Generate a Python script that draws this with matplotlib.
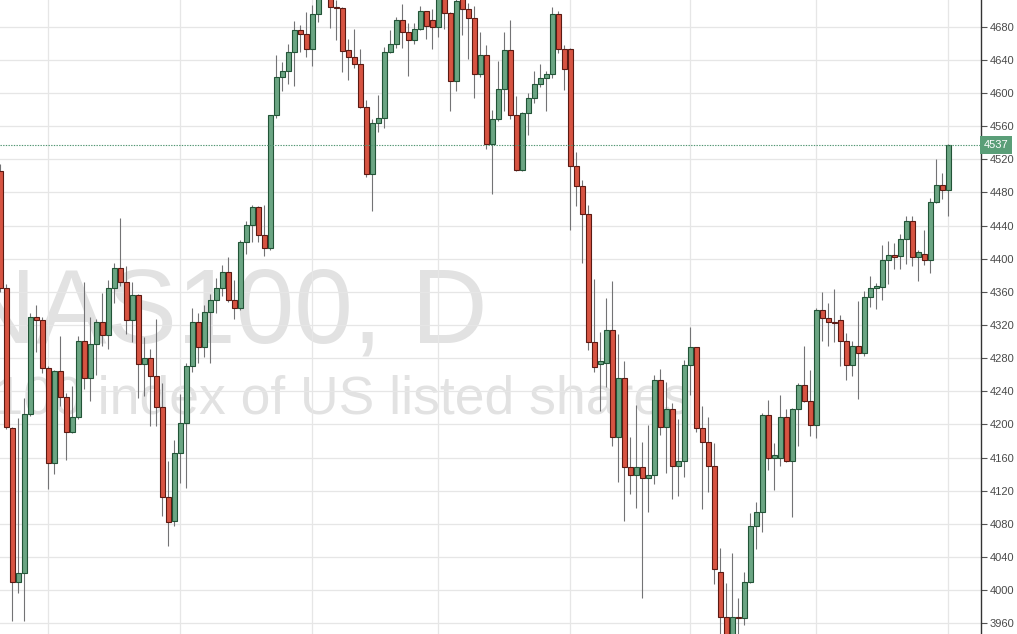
import matplotlib
matplotlib.use("Agg")
import matplotlib.pyplot as plt
import numpy as np

plt.rcParams['font.family'] = ['Liberation Sans', 'DejaVu Sans']

# ---- data (daily NAS100 candles) ----
opens = [4506, 4364, 4196, 4010, 4021, 4213, 4329, 4326, 4268, 4153,
         4264, 4233, 4191, 4209, 4301, 4256, 4297, 4324, 4308, 4364,
         4389, 4372, 4326, 4356, 4273, 4280, 4258, 4221, 4112, 4083,
         4165, 4202, 4271, 4323, 4293, 4336, 4350, 4364, 4384, 4350,
         4341, 4420, 4441, 4462, 4428, 4413, 4573, 4619, 4626, 4649,
         4676, 4671, 4653, 4695, 4717, 4718, 4704, 4702, 4652, 4644,
         4635, 4583, 4502, 4564, 4570, 4650, 4659, 4688, 4674, 4664,
         4677, 4699, 4688, 4680, 4718, 4697, 4615, 4716, 4701, 4691,
         4623, 4646, 4538, 4568, 4605, 4652, 4573, 4507, 4576, 4594,
         4611, 4618, 4623, 4695, 4653, 4653, 4512, 4488, 4454, 4299,
         4273, 4274, 4314, 4185, 4256, 4148, 4139, 4148, 4135, 4139,
         4254, 4197, 4218, 4150, 4156, 4272, 4293, 4196, 4179, 4150,
         4022, 3967, 3942, 3967, 3966, 4010, 4077, 4094, 4211, 4159,
         4159, 4209, 4156, 4218, 4247, 4228, 4199, 4338, 4328, 4323,
         4326, 4301, 4272, 4294, 4286, 4354, 4364, 4366, 4398, 4405,
         4403, 4424, 4445, 4402, 4406, 4398, 4469, 4489, 4483]
highs = [4514, 4369, 4197, 4208, 4232, 4335, 4344, 4330, 4270, 4266,
         4307, 4238, 4246, 4307, 4372, 4329, 4327, 4358, 4374, 4395,
         4449, 4391, 4372, 4357, 4305, 4291, 4327, 4250, 4156, 4181,
         4237, 4274, 4340, 4334, 4344, 4357, 4377, 4392, 4402, 4374,
         4422, 4445, 4465, 4463, 4465, 4573, 4646, 4637, 4659, 4687,
         4682, 4698, 4706, 4722, 4745, 4722, 4712, 4704, 4665, 4677,
         4653, 4592, 4568, 4598, 4656, 4676, 4692, 4707, 4684, 4685,
         4705, 4699, 4701, 4718, 4722, 4698, 4714, 4722, 4708, 4705,
         4674, 4658, 4579, 4639, 4673, 4688, 4596, 4577, 4600, 4627,
         4635, 4626, 4704, 4699, 4658, 4654, 4529, 4495, 4465, 4376,
         4311, 4352, 4373, 4309, 4276, 4185, 4223, 4179, 4199, 4260,
         4267, 4251, 4226, 4206, 4278, 4317, 4293, 4222, 4209, 4178,
         4051, 4008, 4045, 3990, 4022, 4093, 4106, 4214, 4229, 4177,
         4235, 4218, 4220, 4250, 4294, 4266, 4340, 4360, 4346, 4363,
         4332, 4310, 4301, 4349, 4361, 4379, 4371, 4417, 4421, 4419,
         4430, 4451, 4451, 4410, 4435, 4473, 4520, 4504, 4538]
lows = [4360, 4195, 3963, 3997, 3963, 4210, 4287, 4262, 4122, 4140,
        4222, 4157, 4190, 4207, 4243, 4228, 4260, 4294, 4291, 4347,
        4367, 4309, 4299, 4232, 4234, 4198, 4198, 4090, 4053, 4077,
        4129, 4123, 4263, 4274, 4281, 4274, 4334, 4355, 4348, 4327,
        4338, 4406, 4420, 4420, 4403, 4410, 4570, 4602, 4611, 4609,
        4650, 4644, 4633, 4686, 4714, 4678, 4664, 4625, 4616, 4630,
        4582, 4498, 4457, 4553, 4558, 4648, 4654, 4654, 4620, 4659,
        4676, 4665, 4653, 4668, 4677, 4578, 4602, 4670, 4641, 4594,
        4619, 4532, 4478, 4566, 4578, 4568, 4506, 4506, 4549, 4588,
        4607, 4578, 4618, 4648, 4604, 4435, 4464, 4395, 4290, 4263,
        4216, 4245, 4174, 4131, 4083, 4116, 4099, 3990, 4094, 4128,
        4187, 4141, 4110, 4114, 4136, 4236, 4191, 4098, 4118, 4007,
        3935, 3930, 3932, 3935, 3958, 4008, 4049, 4070, 4145, 4121,
        4150, 4154, 4088, 4174, 4227, 4186, 4183, 4301, 4295, 4299,
        4270, 4253, 4258, 4231, 4283, 4342, 4339, 4350, 4369, 4387,
        4387, 4393, 4391, 4373, 4392, 4383, 4467, 4472, 4451]
closes = [4364, 4197, 4010, 4021, 4213, 4329, 4326, 4268, 4153, 4264,
          4233, 4191, 4209, 4301, 4256, 4297, 4324, 4308, 4364, 4389,
          4372, 4326, 4356, 4273, 4280, 4258, 4221, 4112, 4082, 4165,
          4202, 4271, 4323, 4293, 4336, 4350, 4364, 4384, 4350, 4341,
          4420, 4441, 4462, 4428, 4413, 4573, 4619, 4626, 4649, 4676,
          4671, 4653, 4695, 4716, 4725, 4704, 4702, 4651, 4644, 4635,
          4583, 4502, 4564, 4570, 4650, 4659, 4688, 4674, 4664, 4677,
          4699, 4681, 4680, 4716, 4697, 4615, 4711, 4701, 4691, 4623,
          4646, 4538, 4568, 4605, 4652, 4573, 4507, 4576, 4594, 4611,
          4618, 4623, 4695, 4653, 4629, 4512, 4488, 4454, 4299, 4269,
          4276, 4314, 4185, 4256, 4148, 4139, 4148, 4135, 4139, 4254,
          4197, 4218, 4150, 4156, 4272, 4293, 4196, 4179, 4150, 4026,
          3967, 3940, 3967, 3966, 4010, 4077, 4094, 4211, 4159, 4163,
          4209, 4156, 4218, 4247, 4228, 4199, 4338, 4328, 4323, 4322,
          4301, 4272, 4294, 4286, 4354, 4364, 4367, 4398, 4405, 4402,
          4424, 4445, 4402, 4408, 4398, 4469, 4489, 4483, 4537]

price_ticks = list(range(3960, 4681, 40))
month_starts = [8, 30, 52, 73, 95, 115, 136, 158]
last_price = 4537
title_text = "NAS100, D"
subtitle_text = "NASDAQ 100 index of US listed shares"

# ---- styling ----
UP_FILL, DOWN_FILL = "#6ba583", "#d75442"
UP_EDGE, DOWN_EDGE = "#225437", "#5b1a13"
WICK = "#737375"
GRID = "#e6e6e6"

fig = plt.figure(figsize=(10.17, 6.34), dpi=100)
ax = fig.add_axes([0.0, 0.0, 981 / 1017, 1.0])

o = np.array(opens, float)
h = np.array(highs, float)
l = np.array(lows, float)
c = np.array(closes, float)
x = np.arange(len(o))
up = c >= o

# watermark (cut off at the left edge, as in the original screenshot)
ax.text(488 / 981, (634 - 343) / 634, title_text, transform=ax.transAxes,
        ha="right", va="baseline", fontsize=76, color="#e2e2e2", zorder=0.5)
ax.text(690 / 981, (634 - 414) / 634, subtitle_text, transform=ax.transAxes,
        ha="right", va="baseline", fontsize=38.5, color="#e2e2e2", zorder=0.5)

# wicks
ax.vlines(x, l, h, color=WICK, linewidth=0.8, zorder=2)
# bodies
bottoms = np.minimum(o, c)
heights = np.maximum(np.abs(c - o), 0.8)
ax.bar(x, heights, bottom=bottoms, width=0.75,
       color=np.where(up, UP_FILL, DOWN_FILL),
       edgecolor=np.where(up, UP_EDGE, DOWN_EDGE),
       linewidth=0.8, zorder=3)

# last price line
ax.axhline(last_price, color="#4f9470", linestyle=(0, (1.2, 1.2)), linewidth=0.8, zorder=4)

ax.set_xlim(-0.05, 163.45)
ax.set_ylim(3947.0, 4712.2)

ax.set_xticks(month_starts)
ax.set_xticklabels([])
ax.tick_params(axis="x", length=0)
ax.set_yticks(price_ticks)
ax.yaxis.tick_right()
ax.tick_params(axis="y", direction="out", length=4, width=0.8, color="#555555",
               labelsize=8, labelcolor="#4a4a4a", pad=2)
ax.grid(True, color=GRID, linewidth=0.9, zorder=0)
ax.set_axisbelow(True)

for s in ["top", "left", "bottom"]:
    ax.spines[s].set_visible(False)
ax.spines["right"].set_color("#333333")
ax.spines["right"].set_linewidth(1.0)

# last price label on the axis
ax.text(1.003, last_price, str(last_price), transform=ax.get_yaxis_transform(),
        ha="left", va="center", fontsize=8, color="white", zorder=10,
        bbox=dict(boxstyle="square,pad=0.35", fc="#5a9e78", ec="none"), clip_on=False)

fig.savefig("out.png", dpi=100, facecolor="white")
